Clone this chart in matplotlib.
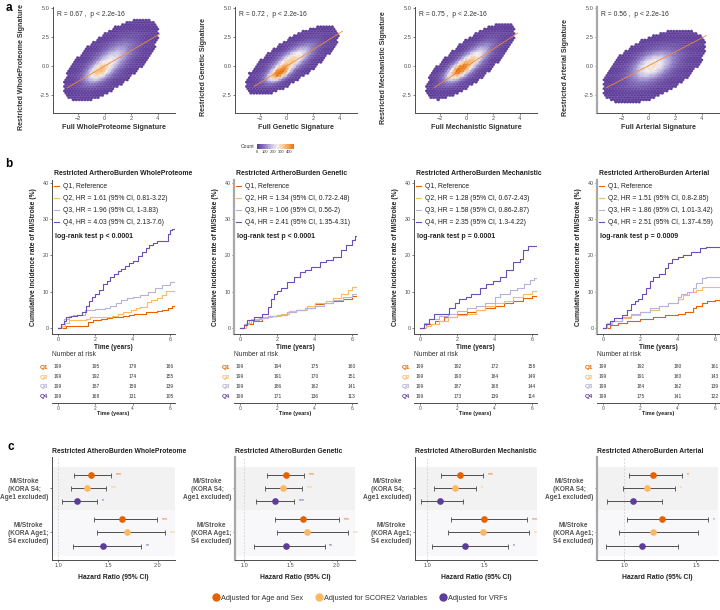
import matplotlib
matplotlib.use('Agg')
import matplotlib.pyplot as plt
import numpy as np
from matplotlib.colors import LinearSegmentedColormap

plt.rcParams['font.family'] = ['Liberation Sans', 'DejaVu Sans']

# ---------------- data ----------------
signatures = ['WholeProteome', 'Genetic', 'Mechanistic', 'Arterial']

# panel a: restricted vs full signature
cor_r = ['0.67', '0.72', '0.75', '0.56']
fit_slope = [0.67, 0.72, 0.75, 0.60]
fit_intercept = [-0.02, -0.03, -0.05, 0.01]
fit_xrange = [(-2.8, 4.15), (-2.45, 4.2), (-2.45, 3.85), (-3.2, 4.35)]
n_people = [38000, 38000, 38000, 36000]
core_mean = [(-0.5, -0.6), (-0.6, -0.7), (-0.7, -0.5), (0.0, 0.2)]
core_sd = [(0.65, 0.6), (0.55, 0.45), (0.6, 0.55), (0.8, 0.7)]
core_rho = [0.5, 0.6, 0.6, 0.4]
core_share = [0.3, 0.3, 0.3, 0.2]
broad_mean = [(0.5, 0.5), (0.4, 0.5), (0.3, 0.4), (0.4, -0.1)]
broad_sd = [(1.05, 1.05), (1.0, 0.85), (0.95, 0.95), (1.15, 0.95)]
broad_rho = [0.67, 0.75, 0.78, 0.56]

# panel b: cumulative incidence by quartile (time, %)
km_time = [
    [[0, 0.45, 1.6, 1.9, 2.3, 2.6, 2.9, 3.2, 3.5, 3.8, 4.1, 4.4, 4.7, 5.0, 5.3, 5.6, 5.9, 6.1, 6.25],
     [0, 0.2, 0.4, 0.6, 1.5, 1.7, 2.9, 3.2, 3.5, 3.9, 4.2, 4.4, 4.75, 5.0, 5.3, 5.6, 5.8, 6.25],
     [0, 0.15, 0.3, 0.6, 0.8, 1.3, 1.45, 2.0, 2.5, 2.8, 3.1, 3.4, 3.7, 4.0, 4.4, 4.8, 5.2, 5.6, 6.0, 6.25],
     [0, 0.15, 0.3, 0.45, 0.7, 1.0, 1.3, 1.5, 1.65, 1.8, 2.0, 2.2, 2.4, 2.6, 2.8, 3.0, 3.2, 3.4, 3.6,
      3.8, 4.0, 4.3, 4.5, 4.7, 4.9, 5.1, 5.3, 5.9, 6.0, 6.1, 6.25]],
    [[0, 0.3, 0.7, 1.2, 1.5, 2.0, 2.5, 3.0, 3.5, 4.0, 4.5, 5.0, 5.5, 6.0, 6.25],
     [0, 0.3, 0.6, 1.2, 1.7, 2.2, 2.6, 3.0, 3.6, 4.0, 4.6, 5.0, 5.4, 5.8, 6.0, 6.25],
     [0, 0.2, 0.5, 1.0, 1.5, 2.0, 2.5, 3.0, 3.5, 4.0, 4.5, 5.0, 5.5, 6.0, 6.25],
     [0, 0.23, 0.4, 0.76, 1.2, 1.5, 1.65, 1.8, 2.0, 2.2, 2.5, 2.9, 3.2, 3.5, 3.8, 4.3, 4.6, 5.0,
      5.4, 5.7, 6.0, 6.15, 6.25]],
    [[0, 0.3, 0.8, 1.3, 2.0, 2.5, 3.0, 3.5, 4.0, 4.5, 5.0, 5.5, 6.0, 6.2],
     [0, 0.3, 0.6, 1.0, 1.5, 2.0, 2.5, 3.0, 3.5, 4.0, 4.5, 5.0, 5.5, 6.0, 6.2],
     [0, 0.2, 0.5, 1.0, 1.5, 2.0, 2.5, 3.0, 3.5, 4.0, 4.3, 4.8, 5.2, 5.6, 5.9, 6.1, 6.2],
     [0, 0.2, 0.5, 0.75, 1.2, 1.55, 1.85, 2.1, 2.45, 2.75, 3.2, 3.55, 3.9, 4.3, 4.6, 5.0, 5.35,
      5.5, 5.8, 6.2]],
    [[0, 0.4, 0.8, 1.3, 2.0, 2.7, 3.3, 4.0, 4.4, 4.8, 5.0, 5.3, 5.6, 6.0, 6.2],
     [0, 0.2, 0.5, 1.0, 1.5, 2.0, 2.5, 3.0, 3.5, 4.0, 4.3, 4.6, 5.0, 5.3, 6.2],
     [0, 0.2, 0.5, 1.0, 1.5, 2.0, 2.5, 3.0, 3.5, 4.0, 4.2, 4.5, 4.8, 5.0, 5.3, 5.5, 6.2],
     [0, 0.15, 0.35, 0.6, 1.0, 1.3, 1.5, 1.7, 1.9, 2.1, 2.3, 2.5, 2.7, 3.0, 3.3, 3.5, 3.7, 4.0,
      4.3, 4.7, 5.2, 5.5, 6.2]],
]
km_pct = [
    [[0, 0.55, 1.7, 2.2, 2.5, 2.7, 2.9, 3.1, 3.3, 3.6, 3.8, 4.0, 4.3, 4.5, 4.8, 5.0, 5.5, 6.0, 6.0],
     [0, 0.5, 1.3, 2.2, 2.4, 2.9, 3.3, 3.8, 4.5, 5.1, 5.5, 5.9, 7.2, 7.6, 8.2, 9.1, 10.3, 10.3],
     [0, 1.0, 2.6, 3.2, 3.5, 3.6, 4.9, 5.2, 5.4, 6.0, 7.0, 7.6, 8.2, 8.6, 9.1, 10.0, 10.9, 11.8, 12.6, 12.6],
     [0, 1.0, 2.0, 3.0, 3.4, 3.6, 4.5, 6.0, 7.5, 8.5, 9.5, 10.5, 12.0, 13.0, 14.0, 15.0, 15.8, 16.4,
      17.0, 18.0, 18.6, 19.8, 21.0, 22.0, 23.0, 23.5, 24.0, 26.0, 27.0, 27.3, 27.3]],
    [[0, 1.0, 2.0, 3.0, 3.2, 3.6, 4.5, 5.0, 5.5, 6.5, 7.0, 7.5, 8.0, 8.8, 8.8],
     [0, 1.5, 2.5, 3.0, 3.3, 4.0, 4.8, 5.0, 6.0, 7.0, 7.5, 8.3, 9.5, 10.5, 11.3, 11.3],
     [0, 1.0, 2.2, 2.8, 3.3, 3.6, 4.3, 5.0, 5.5, 6.0, 6.8, 7.8, 8.5, 9.3, 9.3],
     [0, 0.8, 2.2, 3.1, 4.0, 5.9, 8.0, 9.5, 10.2, 10.9, 12.8, 14.1, 15.5, 16.0, 16.7, 18.3, 18.8,
      19.6, 21.5, 22.8, 24.2, 25.5, 25.5]],
    [[0, 1.0, 2.0, 3.0, 4.0, 4.5, 5.0, 5.5, 6.0, 6.8, 7.5, 8.2, 8.8, 8.8],
     [0, 0.5, 1.2, 2.0, 3.0, 3.5, 4.0, 5.0, 6.0, 7.0, 7.5, 8.5, 9.5, 10.3, 10.3],
     [0, 1.5, 2.5, 3.2, 4.0, 4.6, 5.5, 6.0, 7.0, 8.5, 9.3, 10.5, 11.0, 12.0, 13.2, 13.8, 13.8],
     [0, 1.0, 2.5, 3.8, 4.0, 5.5, 7.0, 8.0, 8.5, 9.5, 11.0, 12.2, 13.0, 14.0, 16.0, 18.3, 19.0,
      21.5, 22.5, 22.5]],
    [[0, 0.8, 1.5, 2.0, 2.5, 3.0, 3.5, 4.0, 4.5, 5.5, 6.0, 7.0, 7.5, 7.8, 7.8],
     [0, 1.5, 2.0, 2.8, 3.5, 4.5, 5.0, 6.0, 7.0, 8.0, 9.0, 10.0, 10.5, 11.3, 11.3],
     [0, 1.2, 2.0, 3.0, 4.0, 4.5, 5.5, 6.0, 7.0, 8.5, 9.5, 10.0, 11.0, 12.5, 13.8, 14.0, 14.0],
     [0, 1.0, 2.0, 2.8, 3.5, 5.0, 6.5, 7.5, 8.0, 9.5, 11.0, 13.0, 14.0, 15.0, 16.5, 18.0, 19.0,
      19.5, 20.0, 21.0, 22.0, 22.3, 22.3]],
]
km_hr = [
    ['HR = 1.61 (95% CI, 0.81-3.22)', 'HR = 1.96 (95% CI, 1-3.83)', 'HR = 4.03 (95% CI, 2.13-7.6)'],
    ['HR = 1.34 (95% CI, 0.72-2.48)', 'HR = 1.06 (95% CI, 0.56-2)', 'HR = 2.41 (95% CI, 1.35-4.31)'],
    ['HR = 1.28 (95% CI, 0.67-2.43)', 'HR = 1.58 (95% CI, 0.86-2.87)', 'HR = 2.35 (95% CI, 1.3-4.22)'],
    ['HR = 1.51 (95% CI, 0.8-2.85)', 'HR = 1.86 (95% CI, 1.01-3.42)', 'HR = 2.51 (95% CI, 1.37-4.59)'],
]
logrank_p = ['p < 0.0001', 'p < 0.0001', 'p = 0.0001', 'p = 0.0009']
risk_times = [0, 2, 4, 6]
at_risk = [
    [[199, 195, 179, 166], [199, 192, 174, 155], [199, 187, 159, 139], [199, 168, 131, 105]],
    [[199, 194, 175, 160], [199, 191, 170, 151], [199, 186, 162, 141], [199, 171, 136, 113]],
    [[199, 192, 172, 158], [199, 190, 164, 149], [199, 187, 168, 144], [199, 173, 139, 114]],
    [[199, 192, 180, 161], [199, 191, 160, 143], [199, 184, 162, 139], [199, 175, 141, 122]],
]
quartiles = ['Q1', 'Q2', 'Q3', 'Q4']

# panel c: hazard ratios, rows = 3 models x 2 cohorts
forest_hr = [
    [1.33, 1.29, 1.19, 1.64, 1.69, 1.45],
    [1.45, 1.42, 1.33, 1.64, 1.68, 1.45],
    [1.29, 1.24, 1.11, 1.50, 1.49, 1.33],
    [1.20, 1.16, 1.06, 1.26, 1.20, 1.12],
]
forest_lo = [
    [1.16, 1.13, 1.04, 1.36, 1.39, 1.15],
    [1.25, 1.23, 1.13, 1.33, 1.35, 1.11],
    [1.12, 1.06, 0.95, 1.21, 1.18, 1.04],
    [1.03, 0.99, 0.88, 1.02, 0.96, 0.87],
]
forest_hi = [
    [1.53, 1.48, 1.39, 1.99, 2.07, 1.83],
    [1.65, 1.63, 1.54, 2.03, 2.12, 1.87],
    [1.49, 1.43, 1.31, 1.87, 1.89, 1.71],
    [1.40, 1.35, 1.26, 1.58, 1.51, 1.37],
]
forest_stars = [
    ['***', '***', '*', '***', '***', '**'],
    ['***', '***', '***', '***', '***', '**'],
    ['***', '*', '', '***', '**', '*'],
    ['*', '*', '', '*', '', ''],
]
models = ['Adjusted for Age and Sex', 'Adjusted for SCORE2 Variables', 'Adjusted for VRFs']
cohorts = ['MI/Stroke\n(KORA S4;\nAge1 excluded)', 'MI/Stroke\n(KORA Age1;\nS4 excluded)']

# ---------------- style ----------------
W, H = 720, 610
fig = plt.figure(figsize=(7.2, 6.1), dpi=100)

def add_ax(l, t, r, b):
    return fig.add_axes([l / W, 1 - b / H, (r - l) / W, (b - t) / H])

q_colors = ['#E66101', '#FDB863', '#B8B1DC', '#6A50B6']
q_label_colors = ['#E66101', '#FDB863', '#B2ABD2', '#5E3C99']
model_colors = ['#E66101', '#FDB863', '#5E3C99']
axis_col = '#4d4d4d'
cmap = LinearSegmentedColormap.from_list(
    'count', [(0.0, '#5e3c99'), (0.2, '#8b78c2'), (0.4, '#cdc6e6'), (0.55, '#f3eef0'),
              (0.72, '#fbc88e'), (1.0, '#e8720c')])

def style(ax, fat=False, size=4.1):
    for s in ['top', 'right']:
        ax.spines[s].set_visible(False)
    for s in ['left', 'bottom']:
        ax.spines[s].set_color(axis_col)
        ax.spines[s].set_linewidth(0.7)
    if fat:
        ax.spines['left'].set_color('#a8a8a8')
        ax.spines['left'].set_linewidth(1.6)
    ax.tick_params(labelsize=size, length=1.5, width=0.5, pad=1,
                   colors=axis_col, labelcolor='#4d4d4d')

fig.text(6 / W, 1 - 8 / H, 'a', fontsize=8.5, fontweight='bold', va='center')
fig.text(5 / W, 1 - 164 / H, 'b', fontsize=8.5, fontweight='bold', va='center')
fig.text(7 / W, 1 - 447 / H, 'c', fontsize=8.5, fontweight='bold', va='center')

# ---------------- panel a ----------------
def bvn(x, y, m, s, r):
    zx = (x - m[0]) / s[0]
    zy = (y - m[1]) / s[1]
    q = (zx ** 2 - 2 * r * zx * zy + zy ** 2) / (1 - r ** 2)
    return np.exp(-q / 2) / (2 * np.pi * s[0] * s[1] * np.sqrt(1 - r ** 2))

a_left = [53, 235, 415, 597]
xl, yl = (-3.9, 5.3), (-4.1, 5.1)
gsize = 42
gx, gy = np.meshgrid(np.linspace(xl[0], xl[1], 370), np.linspace(yl[0], yl[1], 370))
gx, gy = gx.ravel(), gy.ravel()
cell = ((xl[1] - xl[0]) / 369) * ((yl[1] - yl[0]) / 369)
hex_area = ((xl[1] - xl[0]) / gsize) * ((yl[1] - yl[0]) / int(gsize / np.sqrt(3))) / 2

for i in range(4):
    ax = add_ax(a_left[i], 7, a_left[i] + 122, 113)
    dens = (core_share[i] * bvn(gx, gy, core_mean[i], core_sd[i], core_rho[i])
            + (1 - core_share[i]) * bvn(gx, gy, broad_mean[i], broad_sd[i], broad_rho[i]))
    keep = n_people[i] * dens * hex_area >= 1.0
    hb = ax.hexbin(gx[keep], gy[keep], C=n_people[i] * dens[keep] * cell,
                   reduce_C_function=np.sum, gridsize=gsize,
                   extent=(xl[0], xl[1], yl[0], yl[1]), cmap=cmap, vmin=0, vmax=460,
                   linewidths=0.15, edgecolors='face')
    fx = np.array(fit_xrange[i])
    ax.plot(fx, fit_slope[i] * fx + fit_intercept[i], color='#f08a3c', lw=0.6)
    ax.set_xlim(xl)
    ax.set_ylim(yl)
    ax.set_xticks([-2, 0, 2, 4])
    ax.set_yticks([-2.5, 0, 2.5, 5.0])
    ax.set_yticklabels(['-2.5', '0.0', '2.5', '5.0'])
    style(ax, fat=(i == 3))
    ax.text(0.03, 0.93, f'R = {cor_r[i]} ,  p < 2.2e-16', transform=ax.transAxes,
            fontsize=4.9, color='#333333', va='center')
    ax.set_xlabel(f'Full {signatures[i]} Signature', fontsize=5.1,
                  fontweight='bold', color='#333333', labelpad=2)
    ax.set_ylabel(f'Restricted {signatures[i]} Signature', fontsize=5.1,
                  fontweight='bold', color='#333333')
    ax.yaxis.set_label_coords(-0.23, 0.43)

cax = add_ax(257, 144.5, 294, 148.5)
cb = fig.colorbar(hb, cax=cax, orientation='horizontal', ticks=[0, 100, 200, 300, 400])
cb.outline.set_visible(False)
cax.tick_params(labelsize=2.9, length=0, pad=1, colors='#333333')
fig.text(254 / W, 1 - 147 / H, 'Count', fontsize=3.6, ha='right', va='center', color='#333333')

# ---------------- panel b ----------------
b_left = [52, 234, 414, 597]
for i in range(4):
    ax = add_ax(b_left[i], 180, b_left[i] + 123, 334)
    labels = ['Q1, Reference'] + [f'{quartiles[k + 1]}, {km_hr[i][k]}' for k in range(3)]
    for k in range(4):
        ax.step(km_time[i][k], km_pct[i][k], where='post', color=q_colors[k], lw=0.8,
                label=labels[k])
    ax.set_xlim(-0.32, 6.27)
    ax.set_ylim(-1.65, 40.8)
    ax.set_xticks([0, 2, 4, 6])
    ax.set_yticks([0, 10, 20, 30, 40])
    style(ax, fat=(i % 2 == 1), size=3.9)
    ax.legend(loc='upper left', bbox_to_anchor=(0.02, 0.978), fontsize=4.9, frameon=False,
              handlelength=0.6, handletextpad=0.6, labelspacing=0.72, borderpad=0,
              borderaxespad=0, labelcolor='#222222')
    ax.text(0.025, 0.636, f'log-rank test {logrank_p[i]}', transform=ax.transAxes,
            fontsize=5.0, fontweight='bold', va='center', color='#222222')
    ax.text(0.02, 1.039, f'Restricted ArtheroBurden {signatures[i]}', transform=ax.transAxes,
            fontsize=4.95, fontweight='bold', va='center', color='#222222')
    ax.set_xlabel('Time (years)', fontsize=4.7, fontweight='bold', color='#222222', labelpad=1)
    ax.set_ylabel('Cumulative incidence rate of MI/Stroke (%)', fontsize=4.9,
                  fontweight='bold', color='#222222', labelpad=4)

    rt = add_ax(b_left[i], 360, b_left[i] + 123, 403)
    for k in range(4):
        for j, t in enumerate(risk_times):
            rt.text(t, 3 - k, str(at_risk[i][k][j]), fontsize=3.5, ha='center',
                    va='center', color='#333333')
    rt.set_xlim(-0.32, 6.27)
    rt.set_ylim(-0.72, 3.72)
    rt.set_xticks(risk_times)
    rt.set_yticks([3, 2, 1, 0])
    rt.set_yticklabels(quartiles)
    style(rt)
    rt.spines['left'].set_visible(False)
    rt.tick_params(axis='y', length=0, labelsize=4.5, pad=3)
    for lab, c in zip(rt.get_yticklabels(), q_label_colors):
        lab.set_color(c)
        lab.set_fontweight('bold')
    rt.tick_params(axis='x', labelsize=3.5)
    rt.set_xlabel('Time (years)', fontsize=4.0, fontweight='bold', color='#222222', labelpad=0)
    rt.text(0.0, 1.12, 'Number at risk', transform=rt.transAxes, fontsize=4.9,
            va='center', color='#333333')

# ---------------- panel c ----------------
c_left = [52, 235, 415, 597]
c_right = [175, 355, 537, 718]
forest_xlim = [(0.94, 2.17), (0.90, 2.2), (0.895, 1.96), (0.81, 1.65)]
forest_xticks = [[1.0, 1.5, 2.0], [1.0, 1.5, 2.0], [1.0, 1.5], [1.0, 1.5]]
row_y = [1.0, 2.0, 3.0, 4.4, 5.4, 6.45]
group_y = [2.0, 5.4]
band = [(0.38, 3.69, '#f2f2f2'), (3.69, 7.23, '#f8f8fb')]

for i in range(4):
    ax = add_ax(c_left[i], 457, c_right[i], 560)
    for lo, hi, col in band:
        ax.axhspan(lo, hi, color=col, lw=0, zorder=0)
    ax.axvline(1.0, color='#cfcfcf', lw=0.6, ls=(0, (2, 2)), zorder=1)
    for r in range(6):
        m = r % 3
        ax.errorbar(forest_hr[i][r], row_y[r],
                    xerr=[[forest_hr[i][r] - forest_lo[i][r]], [forest_hi[i][r] - forest_hr[i][r]]],
                    fmt='none', ecolor='#4d4d4d', elinewidth=0.7, capsize=1.8, capthick=0.6,
                    zorder=2)
        ax.plot(forest_hr[i][r], row_y[r], 'o', color=model_colors[m], ms=4.8, mew=0,
                zorder=3, label=models[m] if r < 3 else None)
        if forest_stars[i][r]:
            ax.annotate(forest_stars[i][r], (forest_hi[i][r], row_y[r]), xytext=(3.5, 0),
                        textcoords='offset points', fontsize=3.6, va='center',
                        color=model_colors[m])
    ax.set_xlim(forest_xlim[i])
    ax.set_ylim(7.54, -0.38)
    ax.set_xticks(forest_xticks[i])
    ax.set_yticks(group_y)
    ax.set_yticklabels(cohorts, multialignment='center')
    style(ax, fat=(i % 2 == 1))
    ax.tick_params(axis='y', labelsize=4.7, length=1.5)
    for lab in ax.get_yticklabels():
        lab.set_fontweight('bold')
        lab.set_color('#555555')
    ax.tick_params(axis='x', labelsize=4.0)
    ax.set_xlabel('Hazard Ratio (95% CI)', fontsize=4.9, fontweight='bold',
                  color='#222222', labelpad=4)
    ax.text(0.0, 1.058, f'Restricted AtheroBurden {signatures[i]}', transform=ax.transAxes,
            fontsize=4.85, fontweight='bold', va='center', color='#222222')
    if i == 0:
        handles, labs = ax.get_legend_handles_labels()

fig.legend(handles, labs, loc='center', bbox_to_anchor=(0.5, 1 - 598 / H), ncol=3,
           fontsize=5.3, frameon=False, handletextpad=0.2, columnspacing=1.6,
           handlelength=1.0, markerscale=1.25, labelcolor='#333333')

fig.savefig('out.png', dpi=100)
